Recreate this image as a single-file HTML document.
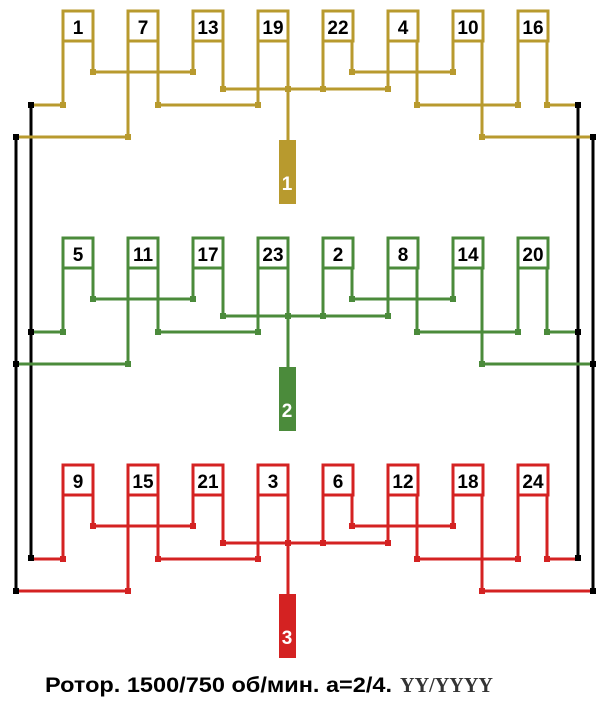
<!DOCTYPE html>
<html><head><meta charset="utf-8"><style>
html,body{margin:0;padding:0;background:#fff;width:608px;height:701px;overflow:hidden}
svg{display:block}
text{font-family:"Liberation Sans",Arial,sans-serif;font-weight:bold}
</style></head><body>
<svg width="608" height="701" viewBox="0 0 608 701" xmlns="http://www.w3.org/2000/svg">
<defs>
<g id="wire" fill="none" stroke-width="3">
<path d="M63,41V105M93,41V72M128,41V137M158,41V105M193,41V72M223,41V89M258,41V105M288,41V140M323,41V89M352,41V72M388,41V89M417,41V105M453,41V72M482,41V137M518,41V105M547,41V105"/>
<path d="M93,72H193M352,72H453M223,89H388M31,105H63M158,105H258M417,105H518M547,105H578M16,137H128M482,137H593"/>
<g stroke-width="3">
<rect x="63" y="11" width="30" height="30"/><rect x="128" y="11" width="30" height="30"/><rect x="193" y="11" width="30" height="30"/><rect x="258" y="11" width="30" height="30"/><rect x="323" y="11" width="30" height="30"/><rect x="388" y="11" width="30" height="30"/><rect x="453" y="11" width="30" height="30"/><rect x="518" y="11" width="30" height="30"/>
</g>
</g>
<g id="dots" stroke="none">
<rect x="60" y="102" width="6" height="6"/><rect x="90" y="69" width="6" height="6"/><rect x="190" y="69" width="6" height="6"/><rect x="125" y="134" width="6" height="6"/><rect x="155" y="102" width="6" height="6"/><rect x="255" y="102" width="6" height="6"/><rect x="220" y="86" width="6" height="6"/><rect x="285" y="86" width="6" height="6"/><rect x="320" y="86" width="6" height="6"/><rect x="385" y="86" width="6" height="6"/><rect x="349" y="69" width="6" height="6"/><rect x="450" y="69" width="6" height="6"/><rect x="414" y="102" width="6" height="6"/><rect x="515" y="102" width="6" height="6"/><rect x="479" y="134" width="6" height="6"/><rect x="544" y="102" width="6" height="6"/>
</g>
</defs>
<g stroke="#000" stroke-width="3" fill="none">
<path d="M31,105V558M16,137V591M578,105V558M593,137V591"/>
</g>
<g stroke="#b89a2e" fill="#b89a2e">
<use href="#wire" fill="#fff"/>
<use href="#dots"/>
<rect x="279" y="140" width="17" height="64" stroke="none"/>
</g>
<g transform="translate(0,227)" stroke="#4b8b3b" fill="#4b8b3b">
<use href="#wire" fill="#fff"/>
<use href="#dots"/>
<rect x="279" y="140" width="17" height="64" stroke="none"/>
</g>
<g transform="translate(0,454)" stroke="#d42222" fill="#d42222">
<use href="#wire" fill="#fff"/>
<use href="#dots"/>
<rect x="279" y="140" width="17" height="64" stroke="none"/>
</g>
<g fill="#000">
<rect x="28" y="102" width="6" height="6"/><rect x="13" y="134" width="6" height="6"/><rect x="575" y="102" width="6" height="6"/><rect x="590" y="134" width="6" height="6"/>
<rect x="28" y="329" width="6" height="6"/><rect x="13" y="361" width="6" height="6"/><rect x="575" y="329" width="6" height="6"/><rect x="590" y="361" width="6" height="6"/>
<rect x="28" y="555" width="6" height="6"/><rect x="13" y="588" width="6" height="6"/><rect x="575" y="555" width="6" height="6"/><rect x="590" y="588" width="6" height="6"/>
</g>
<g font-size="19" text-anchor="middle" fill="#000">
<text x="78" y="34">1</text><text x="143" y="34">7</text><text x="208" y="34">13</text><text x="273" y="34">19</text><text x="338" y="34">22</text><text x="403" y="34">4</text><text x="468" y="34">10</text><text x="533" y="34">16</text>
<text x="78" y="261">5</text><text x="143" y="261">11</text><text x="208" y="261">17</text><text x="273" y="261">23</text><text x="338" y="261">2</text><text x="403" y="261">8</text><text x="468" y="261">14</text><text x="533" y="261">20</text>
<text x="78" y="488">9</text><text x="143" y="488">15</text><text x="208" y="488">21</text><text x="273" y="488">3</text><text x="338" y="488">6</text><text x="403" y="488">12</text><text x="468" y="488">18</text><text x="533" y="488">24</text>
</g>
<g font-size="19" text-anchor="middle" fill="#fff">
<text x="287" y="190">1</text><text x="287" y="417">2</text><text x="287" y="644">3</text>
</g>
<text x="45" y="692" font-size="21" fill="#000" textLength="347" lengthAdjust="spacingAndGlyphs">Ротор. 1500/750 об/мин. a=2/4.</text>
<text x="400" y="692" font-size="21" fill="#333" font-family="Liberation Serif,serif" textLength="93" lengthAdjust="spacingAndGlyphs" style="font-family:'Liberation Serif',serif">YY/YYYY</text>
</svg>
</body></html>
